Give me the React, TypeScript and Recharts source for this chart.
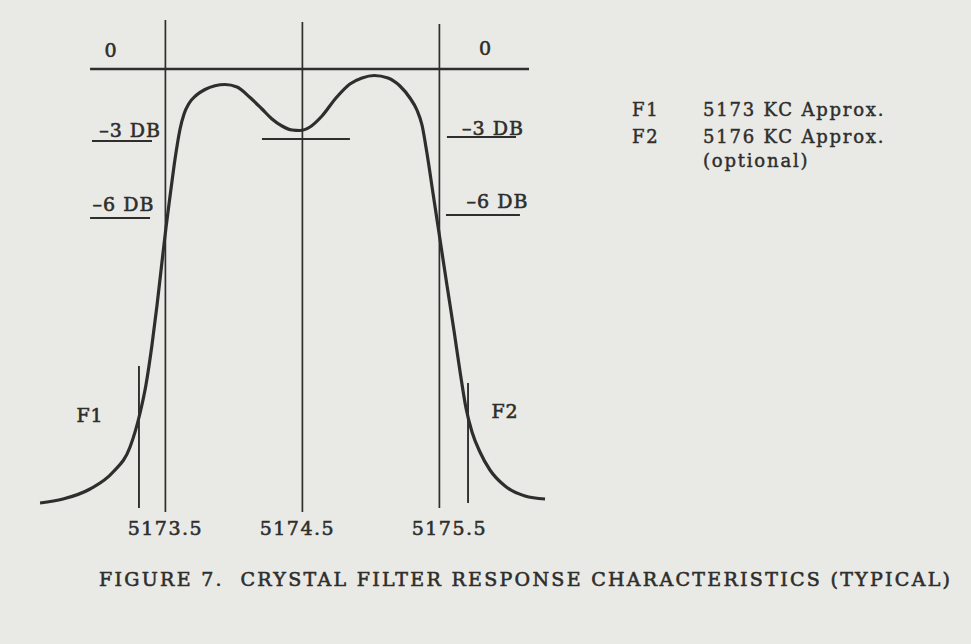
import React from 'react'
import { ComposedChart, Line, XAxis, YAxis, ReferenceLine, ReferenceDot } from 'recharts'

// response curve (kc vs db)
const FREQ_KC = [
  5172.585, 5172.753, 5172.95, 5173.118, 5173.242, 5173.315, 5173.358, 5173.402,
  5173.439, 5173.475, 5173.504, 5173.534, 5173.563, 5173.585, 5173.607, 5173.636,
  5173.672, 5173.723, 5173.789, 5173.862, 5173.935, 5174.023, 5174.118, 5174.205,
  5174.278, 5174.351, 5174.424, 5174.482, 5174.555, 5174.643, 5174.745, 5174.847,
  5174.935, 5175.023, 5175.125, 5175.212, 5175.285, 5175.336, 5175.373, 5175.409,
  5175.453, 5175.504, 5175.555, 5175.607, 5175.65, 5175.694, 5175.738, 5175.796,
  5175.869, 5175.979, 5176.125, 5176.271,
]
const RESPONSE_DB = [
  -17.36, -17.2, -16.8, -16.12, -15.12, -13.76, -12.64, -11.04,
  -9.44, -7.72, -6.36, -5.08, -3.88, -3.08, -2.4, -1.8,
  -1.38, -1.06, -0.82, -0.67, -0.62, -0.72, -1.14, -1.6,
  -2.0, -2.28, -2.44, -2.46, -2.32, -1.88, -1.16, -0.6,
  -0.36, -0.26, -0.36, -0.68, -1.16, -1.64, -2.24, -3.36,
  -4.96, -6.8, -8.64, -10.48, -12.08, -13.56, -14.52, -15.32,
  -16.04, -16.68, -17.08, -17.2,
]

// frequency axis
const TICKS_KC = [5173.5, 5174.5, 5175.5]
const GRID_TOP_DB = [1.96, 1.88, 1.8]
const GRID_BOTTOM_DB = [-17.72, -17.72, -17.56]

// F1 / F2 marker strokes
const MARKER_KC = [5173.307, 5175.709]
const MARKER_TOP_DB = [-11.88, -12.56]
const MARKER_BOTTOM_DB = [-17.56, -17.36]

// 0 db reference and the -3 / -6 db underlines
const LEVEL_DB = [0, -2.88, -5.96, -2.8, -2.72, -5.84]
const LEVEL_FROM_KC = [5172.95, 5172.964, 5172.95, 5174.205, 5175.555, 5175.548]
const LEVEL_TO_KC = [5176.154, 5173.402, 5173.388, 5174.847, 5176.059, 5176.088]

// annotations on the plot
const LABEL_TEXT = ['0', '0', '–3 DB', '–6 DB', '–3 DB', '–6 DB', 'F1', 'F2']
const LABEL_KC = [5173.103, 5175.837, 5173.242, 5173.194, 5175.891, 5175.924, 5172.95, 5175.979]
const LABEL_DB = [0.48, 0.56, -2.72, -5.68, -2.64, -5.56, -14.12, -13.96]

const LEGEND_KEYS = ['F1', 'F2', '']
const LEGEND_TEXT = ['5173 KC Approx.', '5176 KC Approx.', '(optional)']

const CAPTION = 'FIGURE 7.  CRYSTAL FILTER RESPONSE CHARACTERISTICS (TYPICAL)'

const INK = '#2e2e2c'
const PAPER = '#e9e9e6'
const FONT = '"DejaVu Serif", "Liberation Serif", serif'

const TICK_NUDGE: Record<string, number> = { '5173.5': 0, '5174.5': -5, '5175.5': 10 }

const curve = FREQ_KC.map((f, i) => ({ f, db: RESPONSE_DB[i] }))

function FreqTick(props: any) {
  const { x, y, payload } = props
  const v = Number(payload.value).toFixed(1)
  return (
    <text x={x + (TICK_NUDGE[v] ?? 0)} y={y} dy="0.71em" textAnchor="middle"
      fill={INK} stroke={INK} strokeWidth={0.6} fontFamily={FONT} fontSize={19} letterSpacing={1.5}>
      {v}
    </text>
  )
}

export default function App() {
  return (
    <div style={{ position: 'absolute', left: 0, top: 0, width: 971, height: 644, background: PAPER, overflow: 'hidden' }}>
      <ComposedChart width={971} height={644} data={curve}
        margin={{ top: 4, right: 11, bottom: 100, left: 1 }}>
        <XAxis type="number" dataKey="f" domain={[5172.3, 5179.3]} allowDataOverflow
          ticks={TICKS_KC} interval={0} height={30} axisLine={false} tickLine={false}
          tick={<FreqTick />} />
        <YAxis type="number" hide domain={[-17.8, 2.6]} allowDataOverflow />

        {TICKS_KC.map((f, i) => (
          <ReferenceLine key={'g' + i} stroke={INK} strokeWidth={1.7} ifOverflow="visible"
            segment={[{ x: f, y: GRID_TOP_DB[i] }, { x: f, y: GRID_BOTTOM_DB[i] }]} />
        ))}
        {MARKER_KC.map((f, i) => (
          <ReferenceLine key={'m' + i} stroke={INK} strokeWidth={1.9} ifOverflow="visible"
            segment={[{ x: f, y: MARKER_TOP_DB[i] }, { x: f, y: MARKER_BOTTOM_DB[i] }]} />
        ))}
        {LEVEL_DB.map((db, i) => (
          <ReferenceLine key={'l' + i} stroke={INK} strokeWidth={i === 0 ? 2.4 : 2} ifOverflow="visible"
            segment={[{ x: LEVEL_FROM_KC[i], y: db }, { x: LEVEL_TO_KC[i], y: db }]} />
        ))}

        <Line type="monotone" dataKey="db" stroke={INK} strokeWidth={3.2} dot={false}
          activeDot={false} isAnimationActive={false} />

        {LABEL_TEXT.map((t, i) => (
          <ReferenceDot key={'t' + i} x={LABEL_KC[i]} y={LABEL_DB[i]} r={0} ifOverflow="visible"
            shape={(p: any) => (
              <text x={p.cx} y={p.cy} textAnchor="middle" fill={INK} stroke={INK} strokeWidth={0.6}
                fontFamily={FONT} fontSize={19} letterSpacing={1}>
                {t}
              </text>
            )} />
        ))}
      </ComposedChart>

      <svg width={971} height={644} style={{ position: 'absolute', left: 0, top: 0, pointerEvents: 'none' }}>
        {LEGEND_TEXT.map((t, i) => {
          const base = [116, 143, 167][i]
          return (
            <g key={i} fill={INK} stroke={INK} strokeWidth={0.45} fontFamily={FONT} fontSize={18} letterSpacing={1.8}>
              {LEGEND_KEYS[i] && <text x={632} y={base}>{LEGEND_KEYS[i]}</text>}
              <text x={703} y={base}>{t}</text>
            </g>
          )
        })}
        <text x={99} y={586} fill={INK} stroke={INK} strokeWidth={0.6} fontFamily={FONT} fontSize={19}
          textLength={851} lengthAdjust="spacing" style={{ whiteSpace: 'pre' }}>
          {CAPTION}
        </text>
      </svg>
    </div>
  )
}
